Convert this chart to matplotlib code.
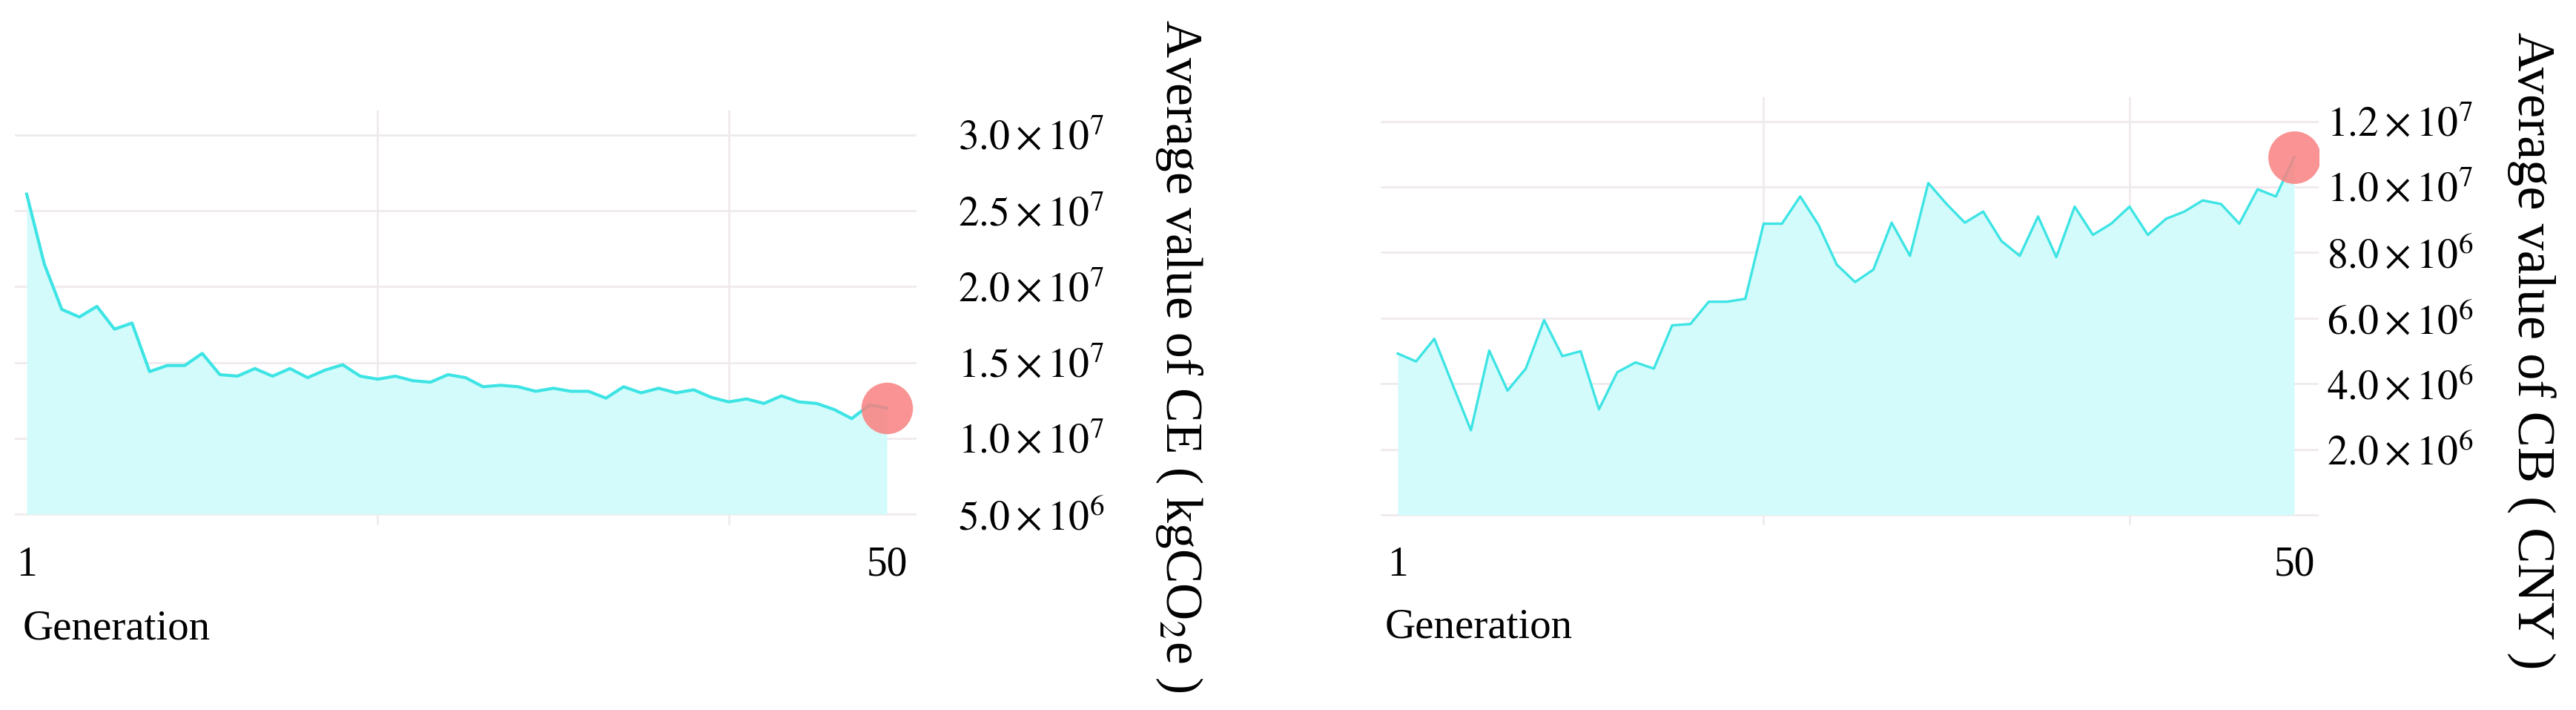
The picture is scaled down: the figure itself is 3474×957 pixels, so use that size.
import numpy as np
import matplotlib
matplotlib.use("Agg")
import matplotlib.pyplot as plt

plt.rcParams["font.family"] = ["Liberation Serif", "DejaVu Serif"]
plt.rcParams["mathtext.fontset"] = "stix"

# data
generation = np.arange(1, 51)
ce_avg = [2.61e7, 2.15e7, 1.85e7, 1.80e7, 1.87e7, 1.72e7, 1.76e7, 1.44e7, 1.48e7, 1.48e7,
          1.56e7, 1.42e7, 1.41e7, 1.46e7, 1.41e7, 1.46e7, 1.40e7, 1.45e7, 1.485e7, 1.41e7,
          1.39e7, 1.41e7, 1.38e7, 1.37e7, 1.42e7, 1.40e7, 1.34e7, 1.35e7, 1.34e7, 1.31e7,
          1.33e7, 1.31e7, 1.31e7, 1.265e7, 1.34e7, 1.30e7, 1.33e7, 1.30e7, 1.32e7, 1.27e7,
          1.24e7, 1.26e7, 1.23e7, 1.28e7, 1.24e7, 1.23e7, 1.19e7, 1.13e7, 1.22e7, 1.20e7]
cb_avg = [4.92e6, 4.68e6, 5.37e6, 3.97e6, 2.58e6, 5.01e6, 3.79e6, 4.46e6, 5.94e6, 4.84e6,
          4.99e6, 3.22e6, 4.35e6, 4.65e6, 4.46e6, 5.78e6, 5.82e6, 6.50e6, 6.50e6, 6.59e6,
          8.88e6, 8.88e6, 9.71e6, 8.84e6, 7.63e6, 7.10e6, 7.48e6, 8.91e6, 7.90e6, 1.012e7,
          9.48e6, 8.91e6, 9.25e6, 8.35e6, 7.90e6, 9.10e6, 7.86e6, 9.40e6, 8.54e6, 8.88e6,
          9.40e6, 8.54e6, 9.03e6, 9.25e6, 9.59e6, 9.48e6, 8.88e6, 9.93e6, 9.71e6, 1.091e7]

ce_ticks = [5e6, 1e7, 1.5e7, 2e7, 2.5e7, 3e7]
ce_ticklabels = [r"$5.0\times10^{6}$", r"$1.0\times10^{7}$", r"$1.5\times10^{7}$",
                 r"$2.0\times10^{7}$", r"$2.5\times10^{7}$", r"$3.0\times10^{7}$"]
cb_ticks = [0, 2e6, 4e6, 6e6, 8e6, 1e7, 1.2e7]
cb_ticklabels = ["", r"$2.0\times10^{6}$", r"$4.0\times10^{6}$", r"$6.0\times10^{6}$",
                 r"$8.0\times10^{6}$", r"$1.0\times10^{7}$", r"$1.2\times10^{7}$"]
x_ticks = [1, 50]
x_grid = [1, 21, 41]

linecolor = "#3ee4e4"
fillcolor = "#d3fbfb"
dotcolor = "#fa8080"
gridcolor = "#f0eaee"

fig = plt.figure(figsize=(34.74, 9.57), dpi=100)
ax1 = fig.add_axes([0.00576, 0.2602, 0.35003, 0.5841])
ax2 = fig.add_axes([0.53598, 0.2602, 0.36413, 0.6029])


def style(ax, yticks, ylabels, xlim, ylim, pad):
    ax.set_xlim(*xlim)
    ax.set_ylim(*ylim)
    for s in ax.spines.values():
        s.set_visible(False)
    ax.set_axisbelow(True)
    ax.yaxis.tick_right()
    ax.set_yticks(yticks)
    ax.set_yticklabels(ylabels)
    ax.tick_params(axis="y", length=0, pad=pad, labelsize=40)
    ax.set_xticks(x_ticks)
    ax.set_xticklabels([str(v) for v in x_ticks])
    ax.set_xticks(x_grid, minor=True)
    ax.tick_params(axis="x", which="both", length=0, pad=20, labelsize=40)
    ax.grid(axis="y", color=gridcolor, linewidth=2)
    ax.grid(axis="x", which="minor", color=gridcolor, linewidth=2)


# left: carbon emission
ax1.fill_between(generation, ce_avg, 5e6, color=fillcolor, linewidth=0, zorder=2)
ax1.plot(generation, ce_avg, color=linecolor, linewidth=3, zorder=3)
ax1.plot(generation[-1], ce_avg[-1], "o", markersize=50, color=dotcolor, alpha=0.85,
         markeredgewidth=0, zorder=4)
style(ax1, ce_ticks, ce_ticklabels, (0.324, 51.69), (4.266e6, 3.1615e7), 40)

# right: cost
ax2.fill_between(generation, cb_avg, 0, color=fillcolor, linewidth=0, zorder=2)
ax2.plot(generation, cb_avg, color=linecolor, linewidth=2.4, zorder=3)
ax2.plot(generation[-1], cb_avg[-1], "o", markersize=51, color=dotcolor, alpha=0.85,
         markeredgewidth=0, zorder=4)
style(ax2, cb_ticks, cb_ticklabels, (0.068, 51.34), (-3.17e5, 1.2737e7), 8)

fig.text(31 / 3474, 1 - 848 / 957, "Generation", fontsize=41, ha="left", va="center")
fig.text(1868 / 3474, 1 - 845 / 957, "Generation", fontsize=41, ha="left", va="center")

fig.text(1590 / 3474, 1 - 480 / 957, r"Average value of CE ( kgCO$_2$e )", fontsize=50,
         rotation=270, ha="center", va="center")
fig.text(3413 / 3474, 1 - 473 / 957, "Average value of CB ( CNY )", fontsize=52,
         rotation=270, ha="center", va="center")

fig.savefig("out.png", dpi=100, facecolor="white")
